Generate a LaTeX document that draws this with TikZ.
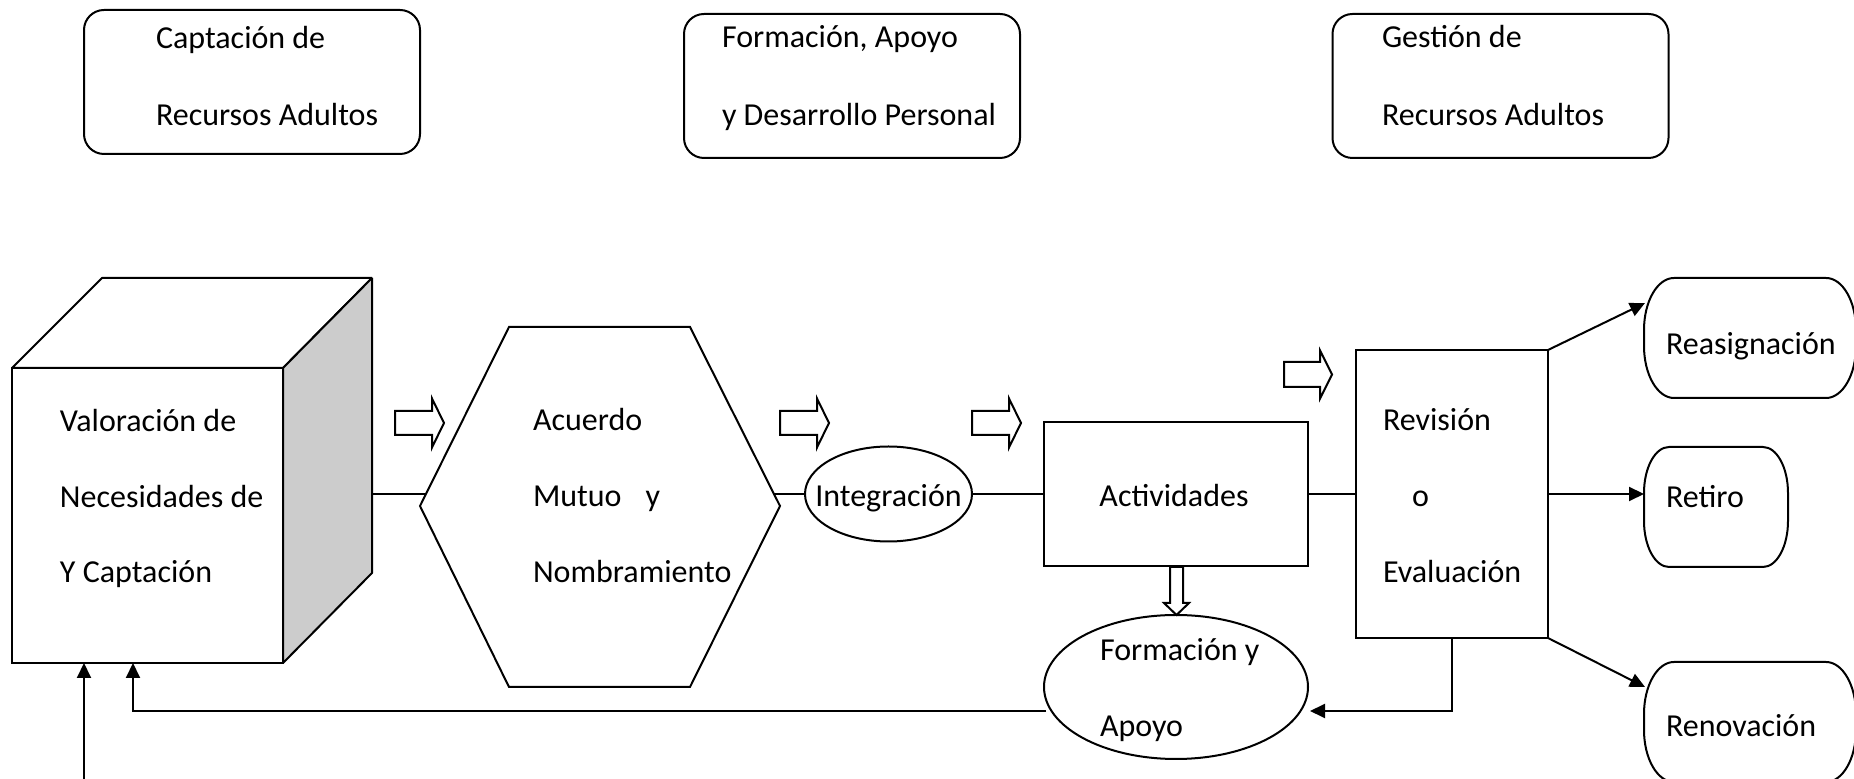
\documentclass[tikz,border=0pt]{standalone}
\usepackage{fontspec}
\setmainfont{Carlito}
\usetikzlibrary{arrows.meta,shapes.geometric,calc}
\definecolor{sidegray}{gray}{0.8}
\tikzset{
  pics/blockarrow/.style n args={4}{code={%
    \draw[fill=white] (0,-#1) -- (#3,-#1) -- (#3,-#2) -- (#4,0) -- (#3,#2) -- (#3,#1) -- (0,#1) -- cycle;}},
  pics/termshape/.style n args={4}{code={%
    \draw (#3,0) -- ({#1-#3},0) arc[start angle=-90,end angle=0,x radius=#3,y radius=#4]
      -- (#1,{#2-#4}) arc[start angle=0,end angle=90,x radius=#3,y radius=#4]
      -- (#3,#2) arc[start angle=90,end angle=180,x radius=#3,y radius=#4]
      -- (0,#4) arc[start angle=180,end angle=270,x radius=#3,y radius=#4] -- cycle;}}
}
\begin{document}
\begin{tikzpicture}[x=0.5pt,y=-0.5pt,
  line width=1pt,
  every node/.style={font=\fontsize{16pt}{19pt}\selectfont, inner sep=0pt, outer sep=0pt},
  txt/.style={anchor=base west},
  ctxt/.style={anchor=base},
  shapebox/.style={draw, rectangle, fill=white},
  topbox/.style={draw, rectangle, rounded corners=10pt, minimum width=168pt, minimum height=72pt},
  oval/.style={draw, ellipse},
  arr/.style={-{Triangle[length=7.5pt,width=7pt]}}
]
\useasboundingbox (0,0) rectangle (1854,779);

% ---- top boxes
\node[topbox] (top1) at (252,82) {};
\node[txt] (top1a) at (156,49) {Captación de};
\node[txt] (top1b) at (156,126) {Recursos Adultos};
\node[topbox] (top2) at (852,86) {};
\node[txt] (top2a) at (722,48) {Formación, Apoyo};
\node[txt] (top2b) at (722,126) {y Desarrollo Personal};
\node[topbox] (top3) at (1500.5,86) {};
\node[txt] (top3a) at (1382,48) {Gestión de};
\node[txt] (top3b) at (1382,126) {Recursos Adultos};

% ---- cube
\node[shapebox, minimum width=135.5pt, minimum height=147.5pt] (cube) at (147.5,515.5) {};
\draw[fill=white, line join=bevel] (cube.north west) -- ++(90,-90) -- ++(270,0) -- (cube.north east) -- cycle;
\draw[fill=sidegray, line join=bevel] (cube.north east) -- ++(89,-90) -- ++(0,295) -- (cube.south east) -- cycle;
\node[txt] (cubea) at (60,432) {Valoración de};
\node[txt] (cubeb) at (60,508) {Necesidades de};
\node[txt] (cubec) at (60,583) {Y Captación};
\coordinate (cubeR) at (372,494);
\coordinate (cubeIn1) at (84,663);
\coordinate (cubeIn2) at (133,663);
\coordinate (extIn) at (84,781);

% ---- hexagon
\draw (420,506) -- (509,327) -- (690,327) -- (780,506) -- (690,687) -- (509,687) -- cycle;
\coordinate (hexL) at (426,494);
\coordinate (hexR) at (774,494);
\node[txt] (hexa) at (533,431) {Acuerdo};
\node[txt] (hexb) at (533,507) {Mutuo\hspace{12pt}y};
\node[txt] (hexc) at (533,583) {Nombramiento};

% ---- integracion
\node[oval, minimum width=83.5pt, minimum height=47.5pt] (integ) at (888.5,494) {};
\node[ctxt] (integt) at (888.5,507) {Integración};

% ---- actividades
\node[shapebox, minimum width=132pt, minimum height=72pt] (act) at (1176,494) {};
\node[ctxt] (actt) at (1174,507) {Actividades};

% ---- formacion y apoyo
\node[oval, minimum width=132pt, minimum height=72pt] (form) at (1176,687) {};
\node[txt] (forma) at (1100,661) {Formación y};
\node[txt] (formb) at (1100,737) {Apoyo};
\coordinate (fbIn) at (1310,711);
\coordinate (fbOut) at (1046,711);

% ---- revision
\node[shapebox, minimum width=96pt, minimum height=144pt] (rev) at (1452,494) {};
\node[txt] (reva) at (1383,431) {Revisión};
\node[txt] (revb) at (1412,507) {o};
\node[txt] (revc) at (1383,583) {Evaluación};

% ---- outcomes
\pic at (1644,278) {termshape={212}{120}{30}{52}};
\node[txt] (reas) at (1666,355) {Reasignación};
\pic at (1644,447) {termshape={144}{120}{25}{46}};
\node[txt] (ret) at (1666,508) {Retiro};
\pic at (1644,662) {termshape={212}{120}{30}{52}};
\node[txt] (ren) at (1666,737) {Renovación};
\coordinate (reasIn) at (1645,303);
\coordinate (retIn) at (1644,494);
\coordinate (renIn) at (1645,687);

% ---- block arrows
\pic at (395,423) {blockarrow={12}{24.5}{37}{49}};
\pic at (780,423) {blockarrow={12}{24.5}{37}{49}};
\pic at (972,423) {blockarrow={12}{24.5}{37}{49}};
\pic at (1284,374.5) {blockarrow={12.5}{24}{36}{48}};
\pic[rotate=-90] at (1176.5,567) {blockarrow={6.5}{12.5}{36}{48}};

% ---- connectors
\draw (cubeR) -- (hexL);
\draw (hexR) -- (integ.west);
\draw (integ.east) -- (act.west);
\draw (act.east) -- (rev.west);
\draw[arr] (rev.north east) -- (reasIn);
\draw[arr] (rev.east) -- (retIn);
\draw[arr] (rev.south east) -- (renIn);
\draw[arr] (rev.south) |- (fbIn);
\draw[arr] (fbOut) -| (cubeIn2);
\draw[arr] (extIn) -- (cubeIn1);
\end{tikzpicture}
\end{document}
